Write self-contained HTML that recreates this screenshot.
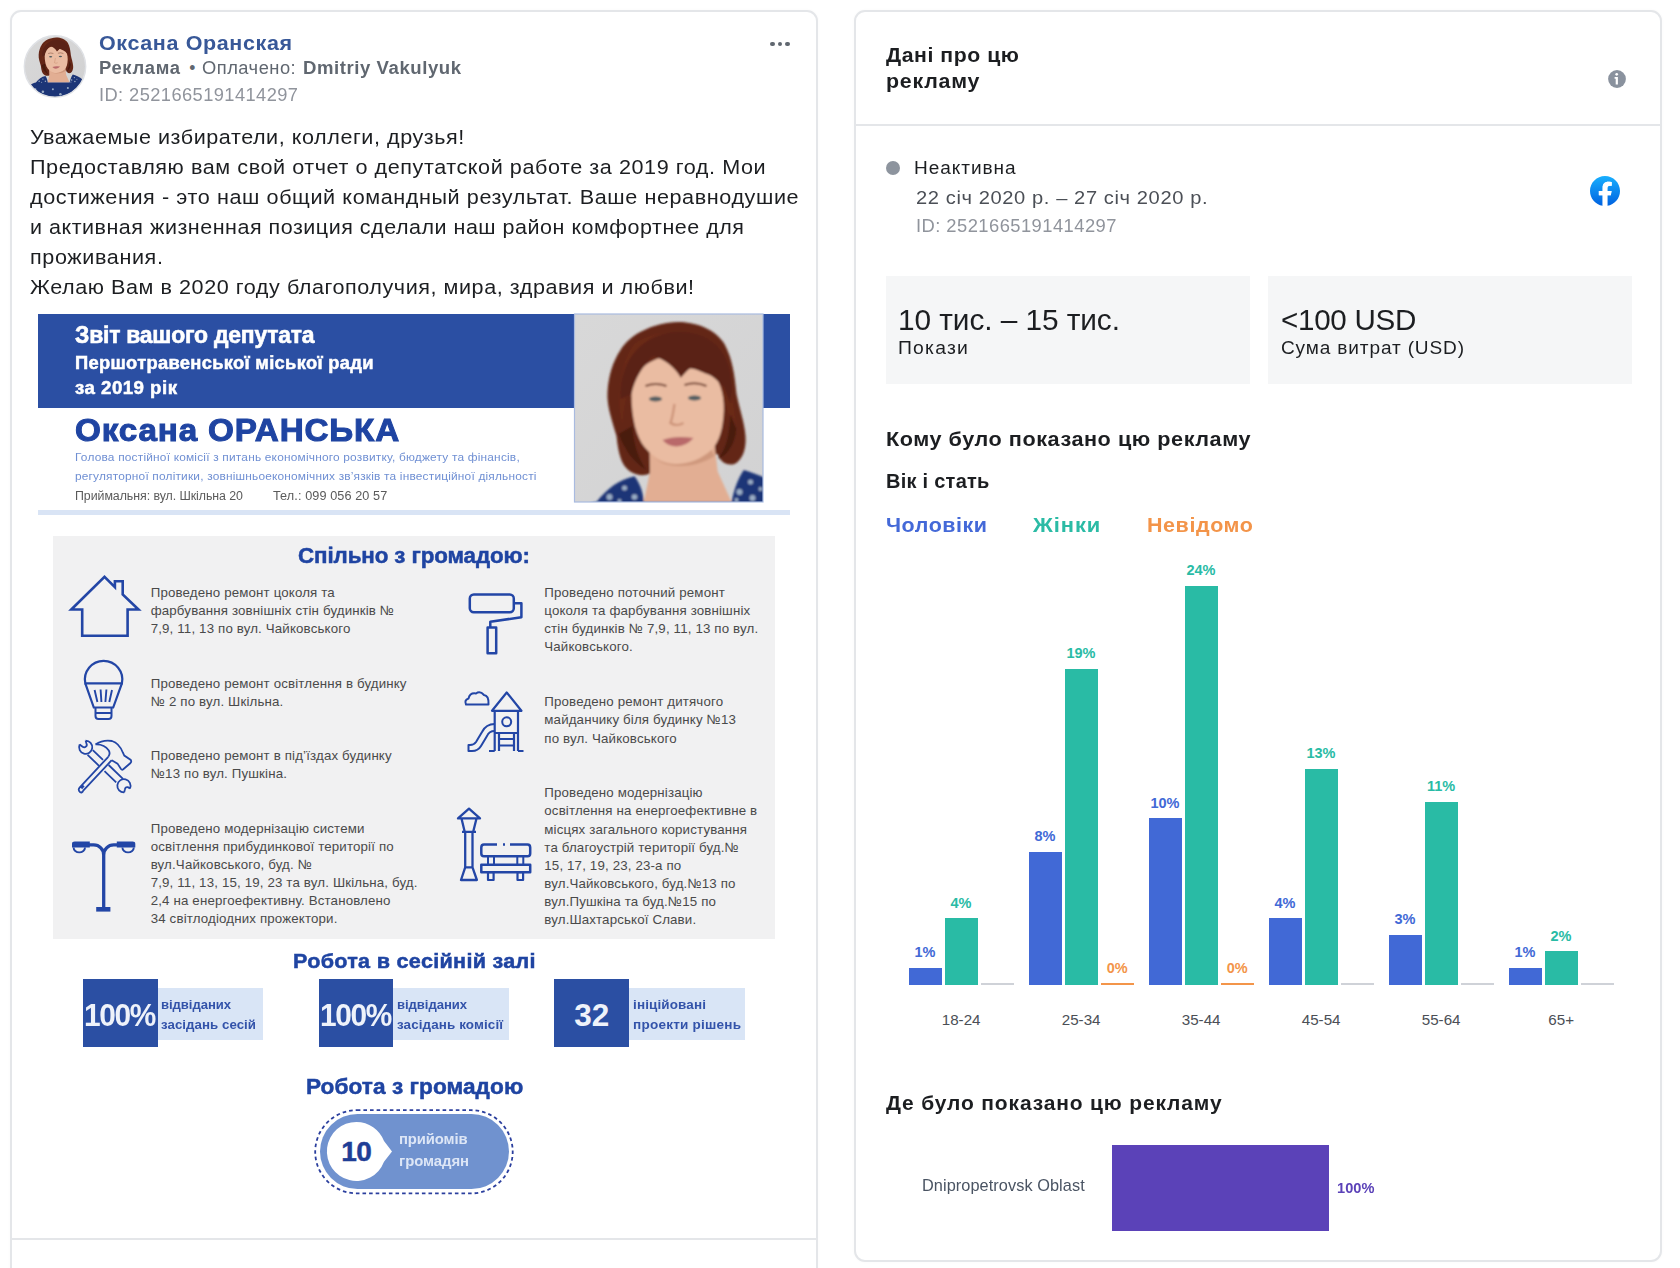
<!DOCTYPE html>
<html><head><meta charset="utf-8"><style>
html,body{margin:0;padding:0;background:#fff;width:1680px;height:1268px;overflow:hidden;}
body{position:relative;font-family:"Liberation Sans",sans-serif;}
.t{position:absolute;white-space:nowrap;line-height:0;}
.a{position:absolute;}
svg{position:absolute;overflow:visible;}
</style></head><body>
<div class="a" style="left:10px;top:10px;width:804px;height:1300px;border:2px solid #e4e6e9;border-radius:11px;box-shadow:0 0 3px rgba(0,0,0,0.03);background:#fff"></div>
<div class="a" style="left:12px;top:1238px;width:804px;height:2px;background:#e4e6e9"></div>
<div class="a" style="left:854px;top:10px;width:804px;height:1248px;border:2px solid #e4e6e9;border-radius:11px;box-shadow:0 0 3px rgba(0,0,0,0.03);background:#fff"></div>
<div class="a" style="left:856px;top:123.7px;width:804px;height:2px;background:#e4e6e9"></div>
<div class="a" style="left:770.3px;top:41.5px;width:4.4px;height:4.4px;border-radius:50%;background:#606770"></div>
<div class="a" style="left:777.8px;top:41.5px;width:4.4px;height:4.4px;border-radius:50%;background:#606770"></div>
<div class="a" style="left:785.3px;top:41.5px;width:4.4px;height:4.4px;border-radius:50%;background:#606770"></div>
<svg style="left:1608px;top:70px" width="18" height="18" viewBox="0 0 18 18"><circle cx="9" cy="9" r="8.9" fill="#8a929e"/><circle cx="8.7" cy="4.3" r="1.35" fill="#fff"/><path d="M6.6 7.1h3.3v7.3H7.7V8.7H6.6z" fill="#fff"/></svg>
<div class="a" style="left:885.8px;top:160.8px;width:14px;height:14px;border-radius:50%;background:#8d949e"></div>
<svg style="left:1590px;top:176px" width="30" height="30" viewBox="0 0 1024 1024"><defs><linearGradient id="fbg" x1="0" y1="0" x2="0" y2="1"><stop offset="0" stop-color="#19affe"/><stop offset="1" stop-color="#0062e0"/></linearGradient></defs><path d="M1024,512C1024,229.23,794.77,0,512,0S0,229.23,0,512c0,255.55,187.23,467.37,432,505.78V660H302V512H432V399.2C432,270.88,508.44,200,625.39,200c56,0,114.61,10,114.61,10V336H675.44c-63.6,0-83.44,39.47-83.44,80v96H734L711.3,660H592v357.78C836.77,979.37,1024,767.55,1024,512Z" fill="url(#fbg)"/><path d="M711.3,660,734,512H592V416c0-40.49,19.84-80,83.44-80H740V210s-57.59-10-114.61-10C508.44,200,432,270.88,432,399.2V512H302V660H432v357.78a517.58,517.58,0,0,0,160,0V660Z" fill="#fff"/></svg>
<div class="a" style="left:885.7px;top:275.8px;width:364.3px;height:107.8px;background:#f5f6f7"></div>
<div class="a" style="left:1267.8px;top:275.8px;width:364.2px;height:107.8px;background:#f5f6f7"></div>
<div class="a" style="left:908.50px;top:968.07px;width:33px;height:16.63px;background:#4169d6"></div>
<div class="a" style="left:944.50px;top:918.18px;width:33px;height:66.52px;background:#29bba5"></div>
<div class="a" style="left:980.50px;top:982.90px;width:33.5px;height:1.8px;background:#cfd2d8"></div>
<div class="a" style="left:1028.50px;top:851.66px;width:33px;height:133.04px;background:#4169d6"></div>
<div class="a" style="left:1064.50px;top:668.73px;width:33px;height:315.97px;background:#29bba5"></div>
<div class="a" style="left:1100.50px;top:982.70px;width:33.5px;height:2px;background:#f3954a"></div>
<div class="a" style="left:1148.50px;top:818.40px;width:33px;height:166.30px;background:#4169d6"></div>
<div class="a" style="left:1184.50px;top:585.58px;width:33px;height:399.12px;background:#29bba5"></div>
<div class="a" style="left:1220.50px;top:982.70px;width:33.5px;height:2px;background:#f3954a"></div>
<div class="a" style="left:1268.50px;top:918.18px;width:33px;height:66.52px;background:#4169d6"></div>
<div class="a" style="left:1304.50px;top:768.51px;width:33px;height:216.19px;background:#29bba5"></div>
<div class="a" style="left:1340.50px;top:982.90px;width:33.5px;height:1.8px;background:#cfd2d8"></div>
<div class="a" style="left:1388.50px;top:934.81px;width:33px;height:49.89px;background:#4169d6"></div>
<div class="a" style="left:1424.50px;top:801.77px;width:33px;height:182.93px;background:#29bba5"></div>
<div class="a" style="left:1460.50px;top:982.90px;width:33.5px;height:1.8px;background:#cfd2d8"></div>
<div class="a" style="left:1508.50px;top:968.07px;width:33px;height:16.63px;background:#4169d6"></div>
<div class="a" style="left:1544.50px;top:951.44px;width:33px;height:33.26px;background:#29bba5"></div>
<div class="a" style="left:1580.50px;top:982.90px;width:33.5px;height:1.8px;background:#cfd2d8"></div>
<div class="a" style="left:1111.5px;top:1145px;width:217.5px;height:86px;background:#5b42b8"></div>
<div class="a" style="left:38px;top:314px;width:752px;height:94px;background:#2b4fa3"></div>
<div class="a" style="left:38px;top:509.7px;width:752px;height:5.3px;background:#d9e4f5"></div>
<div class="a" style="left:53px;top:536px;width:722px;height:402.5px;background:#f1f1f2"></div>
<svg style="left:0;top:0" width="1" height="1"><g fill="none" stroke="#2346a6" stroke-width="2.6" stroke-linejoin="miter" stroke-linecap="butt">
<path d="M71.3 609.5 L104.5 576.9 L114.9 587.2 L114.9 581.2 L122.7 581.2 L122.7 594.5 L138.5 609.5 L127.6 609.5 L127.6 635.7 L82.2 635.7 L82.2 609.5 Z"/>
<path d="M85.3 683.4 A18.7 18.7 0 1 1 121.9 683.4 Z" stroke-width="2.2"/>
<path d="M85.3 683.4 L93.8 707.5 L113.2 707.5 L121.9 683.4" stroke-width="2.2"/>
<path d="M94.6 690 L97.4 702 M100.6 689.5 L101.4 702 M106.4 689.5 L105.4 702 M112 690 L109.3 702" stroke-width="1.9"/>
<path d="M95.5 708 L95.5 716 Q95.5 719 98.5 719 L108.5 719 Q111.5 719 111.5 716 L111.5 708 M95.5 713 L111.5 713" stroke-width="2"/>
<path d="M79.8 787.3 L108.3 756.8 M83.2 790.7 L111.7 760.2 M79.8 787.3 Q77.5 790 80 792 Q82 793.5 83.2 790.7 M80.8 786.5 L82.8 788.5 M82 785.2 L84 787.2" stroke-width="1.8"/>
<path d="M95.4 744.4 Q103 739.5 112 741 Q119 743 122.8 752.5 L124.3 755.6 L130.8 760 Q131.8 761.6 130.5 763 L123.3 769.3 Q122 770.2 121 769 L117.5 763.6 L111.7 760.2 M95.4 744.4 Q104.5 744 108.8 750.5 Q110.6 753.8 108.3 756.8" stroke-width="1.8"/>
<path d="M87.6 754.8 L99 765.8 M104.5 771.2 L116.2 782.4 M92.8 750.1 L103 759.8 M108.6 765 L123 778.8" stroke-width="1.8"/>
<path d="M79.6 744.6 A6.6 6.6 0 1 0 85.6 740.6 M79.6 744.6 L82.6 746.8 A2.6 2.6 0 0 0 86.4 743.4 L85.6 740.6" stroke-width="1.8"/>
<path d="M124.2 792.4 A6.6 6.6 0 1 1 130 788.4 M124.2 792.4 L124.9 789.4 A2.6 2.6 0 0 1 127.8 787.2 L130 788.4" stroke-width="1.8"/>
</g>
<g fill="#2346a6">
<path d="M72 847.6 L72 843.8 Q72 841.4 74.8 841.4 L89.8 841.4 L89.8 847.6 Z M116.8 841.4 L132.6 841.4 Q135.3 841.4 135.3 843.8 L135.3 847.6 L116.8 847.6 Z"/>
<path d="M73.6 847.4 A5.7 5 0 0 0 85 847.4 M122.4 847.4 A5.7 5 0 0 0 133.8 847.4" fill="none" stroke="#2346a6" stroke-width="1.9"/>
<path d="M88.5 844.9 L93.7 844.9 A10 10 0 0 1 103.7 854.9 L103.7 908 M118.9 844.9 L113.7 844.9 A10 10 0 0 0 103.7 854.9" fill="none" stroke="#2346a6" stroke-width="3.3"/>
<rect x="96.2" y="907" width="14.2" height="4.6"/>
</g>
<g fill="none" stroke="#2346a6" stroke-width="2.5" stroke-linejoin="round">
<rect x="469.8" y="594.4" width="44" height="17.8" rx="4"/>
<path d="M513.8 603.2 L521.4 603.2 L521.4 617.2 L490.3 621.8 L490.3 627"/>
<rect x="487.6" y="627.4" width="8.6" height="25.8"/>
<path d="M466 704.5 Q464 700 468.5 698.5 Q470 692.5 476 693.5 Q480 690.5 484 695 Q489 695.5 488.5 704.5 Z" stroke-width="2"/>
<path d="M492 710.8 L506.7 692.5 L521.4 710.8 Z M494.7 710.8 L494.7 751 M518 710.8 L518 751 M494.7 733 L518 733 M499 739 L514 739 M499 745.5 L514 745.5 M499 733 L499 751 M514 733 L514 751" stroke-width="2.2"/>
<circle cx="506.7" cy="721.8" r="4.5" stroke-width="2"/>
<path d="M494.7 724 Q486 724 482 732 L476 742 Q474 745 470 745 L468.5 745 L468.5 751 L472 751 Q478 751 481 746 L487 736 Q489 731 494.7 731" stroke-width="2"/>
<path d="M489 751 L494.7 751 M518 751 L523.5 751" stroke-width="2"/>
<path d="M469 808.6 L458 818.4 L480 818.4 Z M461.5 818.4 L464.7 831.8 L473.2 831.8 L476.5 818.4 M465.2 831.8 L465.2 867.3 M472.5 831.8 L472.5 867.3 M462 831.8 L476 831.8 M465.2 867.3 L461 880 L476.9 880 L472.5 867.3 Z" stroke-width="2.3"/>
<path d="M497 844.5 L484 844.5 Q481.3 844.5 481.3 847.5 L481.3 853.5 Q481.3 856.3 484 856.3 L527.5 856.3 Q530.2 856.3 530.2 853.5 L530.2 847.5 Q530.2 844.5 527.5 844.5 L510 844.5 M503 844.5 L505 844.5" stroke-width="2.5"/>
<rect x="481.3" y="864.8" width="48.9" height="7.4" stroke-width="2.5"/>
<path d="M488 856.3 L488 864.8 M494 856.3 L494 864.8 M517.3 856.3 L517.3 864.8 M523.3 856.3 L523.3 864.8" stroke-width="2"/>
<rect x="488" y="872.2" width="5.6" height="7.8" stroke-width="2.2"/>
<rect x="517.5" y="872.2" width="5.6" height="7.8" stroke-width="2.2"/>
</g></svg>
<div class="a" style="left:157.6px;top:987.6px;width:105.2px;height:52px;background:#d9e5f6"></div>
<div class="a" style="left:82.9px;top:979.1px;width:74.7px;height:68.3px;background:#2b4fa3"></div>
<div class="a" style="left:393.2px;top:987.6px;width:116.0px;height:52px;background:#d9e5f6"></div>
<div class="a" style="left:318.5px;top:979.1px;width:74.7px;height:68.3px;background:#2b4fa3"></div>
<div class="a" style="left:629.1px;top:987.6px;width:116.3px;height:52px;background:#d9e5f6"></div>
<div class="a" style="left:554.4px;top:979.1px;width:74.7px;height:68.3px;background:#2b4fa3"></div>
<svg style="left:0;top:0" width="1" height="1"><rect x="315.2" y="1110.2" width="197.5" height="83.2" rx="41.6" fill="none" stroke="#2b3f9e" stroke-width="1.8" stroke-dasharray="3.6 3"/></svg>
<div class="a" style="left:320px;top:1113.6px;width:188.6px;height:75.7px;border-radius:38px;background:#7092cf"></div>
<svg style="left:0;top:0" width="1" height="1"><path d="M356.4 1121.9 A29.5 29.5 0 0 1 384 1141 L392 1151.4 L384 1161.8 A29.5 29.5 0 1 1 356.4 1121.9 Z" fill="#fff"/></svg>
<svg style="left:0;top:0" width="1" height="1"><defs>
<linearGradient id="pbg" x1="0" y1="0" x2="1" y2="1"><stop offset="0" stop-color="#dadada"/><stop offset="1" stop-color="#d0d0d1"/></linearGradient>
<filter id="pblur" x="-20%" y="-20%" width="140%" height="140%"><feGaussianBlur stdDeviation="1.3"/></filter>
<clipPath id="photoclip"><rect x="0" y="0" width="188.5" height="188"/></clipPath>
<clipPath id="avclip"><circle cx="55" cy="66.5" r="30.5"/></clipPath>
</defs>
<g transform="translate(574.5 314)"><g clip-path="url(#photoclip)">
<rect x="-60" y="-60" width="310" height="320" fill="url(#pbg)"/>
<g filter="url(#pblur)">
<path d="M103.5 8 C120 8 140 14 150 30 C158 45 160 60 162 80 C165 95 170 108 171 122 C172 135 168 146 160 150 C152 152 146 148 143 140 L75 160 C66 163 56 160 50 152 C45 145 43 132 42 122 C38 108 32 92 33 78 C34 62 38 48 46 36 C56 20 78 9 103.5 8 Z" fill="#632616"/>
<path d="M60 30 C80 14 125 14 145 40 C155 60 160 90 162 120 C150 95 148 70 135 52 C120 38 90 36 70 50 C58 60 50 80 48 110 C42 90 44 50 60 30 Z" fill="#84371f" opacity="0.25"/>
<path d="M75 135 L140 130 L143.2 157.5 L157 188 L69.3 188 L75.5 157.5 Z" fill="#e2ae93"/>
<path d="M57 80 C57 58 75 42 100 42 C130 42 150 62 149.3 96 C148.5 115 145 127 137 136 C127 145 114 150 103 150 C90 150 78 143 70 133 C62 123 57 105 57 80 Z" fill="#eabca2"/>
<path d="M137 136 C127 145 114 150 103 150 C92 150 86 148 80 144 C90 154 118 156 140 142 Z" fill="#cf987d"/>
<path d="M46 85 C44 45 70 18 105 18 C140 18 162 42 156 90 L149.3 73 C142 66 138 62 134 60.6 C125 57 119 54 115.5 54.5 C112 57 109 61 106.3 63.7 C100 53 90 45 78.6 42.2 C68 52 60 65 57 80 Z" fill="#5a2214"/>
<path d="M44 120 C50 135 58 148 72 156 C64 145 59 130 58 112 Z M156 100 C155 120 152 135 143 145 C152 142 160 132 162 115 Z" fill="#4a1a10"/>
<ellipse cx="81" cy="85" rx="6.5" ry="2.6" fill="#4f5d62"/>
<ellipse cx="120" cy="84" rx="6.5" ry="2.6" fill="#4f5d62"/>
<path d="M71 72 Q81 68 92 72 M110 71 Q121 67 132 72" stroke="#7a4a38" stroke-width="2" fill="none"/>
<path d="M100 90 Q98 104 96 109 Q102 113 109 109" stroke="#cc9378" stroke-width="2.2" fill="none"/>
<path d="M88 126 Q101 121 119 124 Q112 132 102 132.5 Q93 132 88 126 Z" fill="#b9696b"/>
<path d="M-40 290 L-30 230 C-10 200 10 190 22 188 C32 175 45 165 60.1 162.2 C66 170 69 180 69.3 188 L157 188 C160 175 163 165 169.3 156 C176 158 182 160 188.5 163 C215 175 235 200 240 290 Z" fill="#1f3577"/>
<g fill="#c4d6df" opacity="0.75"><circle cx="35" cy="183" r="3"/><circle cx="50" cy="174" r="2.5"/><circle cx="60" cy="183" r="2.8"/><circle cx="45" cy="187" r="2"/><circle cx="165" cy="178" r="3"/><circle cx="176" cy="168" r="2.5"/><circle cx="178" cy="184" r="3"/><circle cx="186" cy="175" r="2"/><circle cx="162" cy="186" r="2"/><circle cx="20" cy="215" r="4"/><circle cx="50" cy="225" r="5"/><circle cx="90" cy="215" r="4"/><circle cx="120" cy="235" r="5"/><circle cx="150" cy="210" r="4"/><circle cx="180" cy="225" r="5"/><circle cx="70" cy="250" r="4"/><circle cx="140" cy="255" r="4"/><circle cx="30" cy="255" r="4"/><circle cx="200" cy="250" r="4"/></g>
</g></g>
<rect x="0" y="0" width="188.5" height="188" fill="none" stroke="#a9bbe0" stroke-width="1.2"/></g>
<g clip-path="url(#avclip)"><g transform="translate(30.4 35.5) scale(0.25)">
<rect x="-60" y="-60" width="310" height="320" fill="url(#pbg)"/>
<g filter="url(#pblur)">
<path d="M103.5 8 C120 8 140 14 150 30 C158 45 160 60 162 80 C165 95 170 108 171 122 C172 135 168 146 160 150 C152 152 146 148 143 140 L75 160 C66 163 56 160 50 152 C45 145 43 132 42 122 C38 108 32 92 33 78 C34 62 38 48 46 36 C56 20 78 9 103.5 8 Z" fill="#632616"/>
<path d="M60 30 C80 14 125 14 145 40 C155 60 160 90 162 120 C150 95 148 70 135 52 C120 38 90 36 70 50 C58 60 50 80 48 110 C42 90 44 50 60 30 Z" fill="#84371f" opacity="0.25"/>
<path d="M75 135 L140 130 L143.2 157.5 L157 188 L69.3 188 L75.5 157.5 Z" fill="#e2ae93"/>
<path d="M57 80 C57 58 75 42 100 42 C130 42 150 62 149.3 96 C148.5 115 145 127 137 136 C127 145 114 150 103 150 C90 150 78 143 70 133 C62 123 57 105 57 80 Z" fill="#eabca2"/>
<path d="M137 136 C127 145 114 150 103 150 C92 150 86 148 80 144 C90 154 118 156 140 142 Z" fill="#cf987d"/>
<path d="M46 85 C44 45 70 18 105 18 C140 18 162 42 156 90 L149.3 73 C142 66 138 62 134 60.6 C125 57 119 54 115.5 54.5 C112 57 109 61 106.3 63.7 C100 53 90 45 78.6 42.2 C68 52 60 65 57 80 Z" fill="#5a2214"/>
<path d="M44 120 C50 135 58 148 72 156 C64 145 59 130 58 112 Z M156 100 C155 120 152 135 143 145 C152 142 160 132 162 115 Z" fill="#4a1a10"/>
<ellipse cx="81" cy="85" rx="6.5" ry="2.6" fill="#4f5d62"/>
<ellipse cx="120" cy="84" rx="6.5" ry="2.6" fill="#4f5d62"/>
<path d="M71 72 Q81 68 92 72 M110 71 Q121 67 132 72" stroke="#7a4a38" stroke-width="2" fill="none"/>
<path d="M100 90 Q98 104 96 109 Q102 113 109 109" stroke="#cc9378" stroke-width="2.2" fill="none"/>
<path d="M88 126 Q101 121 119 124 Q112 132 102 132.5 Q93 132 88 126 Z" fill="#b9696b"/>
<path d="M-40 290 L-30 230 C-10 200 10 190 22 188 C32 175 45 165 60.1 162.2 C66 170 69 180 69.3 188 L157 188 C160 175 163 165 169.3 156 C176 158 182 160 188.5 163 C215 175 235 200 240 290 Z" fill="#1f3577"/>
<g fill="#c4d6df" opacity="0.75"><circle cx="35" cy="183" r="3"/><circle cx="50" cy="174" r="2.5"/><circle cx="60" cy="183" r="2.8"/><circle cx="45" cy="187" r="2"/><circle cx="165" cy="178" r="3"/><circle cx="176" cy="168" r="2.5"/><circle cx="178" cy="184" r="3"/><circle cx="186" cy="175" r="2"/><circle cx="162" cy="186" r="2"/><circle cx="20" cy="215" r="4"/><circle cx="50" cy="225" r="5"/><circle cx="90" cy="215" r="4"/><circle cx="120" cy="235" r="5"/><circle cx="150" cy="210" r="4"/><circle cx="180" cy="225" r="5"/><circle cx="70" cy="250" r="4"/><circle cx="140" cy="255" r="4"/><circle cx="30" cy="255" r="4"/><circle cx="200" cy="250" r="4"/></g>
</g></g></g>
<circle cx="55" cy="66.5" r="30.7" fill="none" stroke="#dfe1e5" stroke-width="1.4"/>
</svg>
<div class="t" style="left:98.75px;top:42.90px;font-size:20.5px;color:#385898;font-weight:bold;letter-spacing:0.588px;transform:scaleX(1.0491);transform-origin:0 0;">Оксана Оранская</div>
<div class="t" style="left:98.75px;top:67.69px;font-size:17.5px;color:#606770;font-weight:bold;letter-spacing:0.614px;transform:scaleX(1.0530);transform-origin:0 0;">Реклама</div>
<div class="t" style="left:189.30px;top:67.69px;font-size:17.5px;color:#606770;">•</div>
<div class="t" style="left:201.90px;top:67.69px;font-size:17.5px;color:#606770;letter-spacing:0.474px;transform:scaleX(1.0463);transform-origin:0 0;">Оплачено:</div>
<div class="t" style="left:302.90px;top:67.69px;font-size:17.5px;color:#606770;font-weight:bold;letter-spacing:0.533px;transform:scaleX(1.0601);transform-origin:0 0;">Dmitriy Vakulyuk</div>
<div class="t" style="left:98.75px;top:95.44px;font-size:17.5px;color:#90949c;letter-spacing:0.405px;transform:scaleX(1.0439);transform-origin:0 0;">ID: 2521665191414297</div>
<div class="t" style="left:29.90px;top:136.90px;font-size:20.5px;color:#1c1e21;letter-spacing:0.527px;transform:scaleX(1.0522);transform-origin:0 0;">Уважаемые избиратели, коллеги, друзья!</div>
<div class="t" style="left:29.90px;top:166.90px;font-size:20.5px;color:#1c1e21;letter-spacing:0.530px;transform:scaleX(1.0539);transform-origin:0 0;">Предоставляю вам свой отчет о депутатской работе за 2019 год. Мои</div>
<div class="t" style="left:29.90px;top:196.90px;font-size:20.5px;color:#1c1e21;letter-spacing:0.555px;transform:scaleX(1.0539);transform-origin:0 0;">достижения - это наш общий командный результат. Ваше неравнодушие</div>
<div class="t" style="left:29.90px;top:226.90px;font-size:20.5px;color:#1c1e21;letter-spacing:0.498px;transform:scaleX(1.0481);transform-origin:0 0;">и активная жизненная позиция сделали наш район комфортнее для</div>
<div class="t" style="left:29.90px;top:256.90px;font-size:20.5px;color:#1c1e21;letter-spacing:0.591px;transform:scaleX(1.0516);transform-origin:0 0;">проживания.</div>
<div class="t" style="left:29.90px;top:286.90px;font-size:20.5px;color:#1c1e21;letter-spacing:0.527px;transform:scaleX(1.0526);transform-origin:0 0;">Желаю Вам в 2020 году благополучия, мира, здравия и любви!</div>
<div class="t" style="left:886.00px;top:54.87px;font-size:20.3px;color:#1c1e21;font-weight:bold;letter-spacing:0.540px;transform:scaleX(1.0464);transform-origin:0 0;">Дані про цю</div>
<div class="t" style="left:886.00px;top:80.57px;font-size:20.3px;color:#1c1e21;font-weight:bold;letter-spacing:0.731px;transform:scaleX(1.0549);transform-origin:0 0;">рекламу</div>
<div class="t" style="left:914.00px;top:167.84px;font-size:17.5px;color:#1c1e21;letter-spacing:0.871px;transform:scaleX(1.0877);transform-origin:0 0;">Неактивна</div>
<div class="t" style="left:916.40px;top:197.69px;font-size:18.8px;color:#4b4f56;letter-spacing:0.560px;transform:scaleX(1.0703);transform-origin:0 0;">22 січ 2020 р. – 27 січ 2020 р.</div>
<div class="t" style="left:916.40px;top:225.94px;font-size:17.5px;color:#90949c;letter-spacing:0.438px;transform:scaleX(1.0477);transform-origin:0 0;">ID: 2521665191414297</div>
<div class="t" style="left:898.20px;top:319.61px;font-size:30px;color:#1c1e21;letter-spacing:-0.076px;transform:scaleX(0.9946);transform-origin:0 0;">10 тис. – 15 тис.</div>
<div class="t" style="left:898.20px;top:347.74px;font-size:17.5px;color:#1c1e21;letter-spacing:1.096px;transform:scaleX(1.1050);transform-origin:0 0;">Покази</div>
<div class="t" style="left:1281.30px;top:319.61px;font-size:30px;color:#1c1e21;letter-spacing:-0.279px;transform:scaleX(0.9862);transform-origin:0 0;">&lt;100 USD</div>
<div class="t" style="left:1281.30px;top:347.74px;font-size:17.5px;color:#1c1e21;letter-spacing:0.790px;transform:scaleX(1.0886);transform-origin:0 0;">Сума витрат (USD)</div>
<div class="t" style="left:886.00px;top:439.03px;font-size:20.7px;color:#1c1e21;font-weight:bold;letter-spacing:0.520px;transform:scaleX(1.0456);transform-origin:0 0;">Кому було показано цю рекламу</div>
<div class="t" style="left:886.00px;top:481.04px;font-size:19.5px;color:#1c1e21;font-weight:bold;letter-spacing:0.249px;transform:scaleX(1.0260);transform-origin:0 0;">Вік і стать</div>
<div class="t" style="left:885.90px;top:524.86px;font-size:20.6px;color:#4469d8;font-weight:bold;letter-spacing:0.530px;transform:scaleX(1.0414);transform-origin:0 0;">Чоловіки</div>
<div class="t" style="left:1033.30px;top:524.86px;font-size:20.6px;color:#2bbba5;font-weight:bold;letter-spacing:0.889px;transform:scaleX(1.0633);transform-origin:0 0;">Жінки</div>
<div class="t" style="left:1147.00px;top:524.86px;font-size:20.6px;color:#f39449;font-weight:bold;letter-spacing:0.567px;transform:scaleX(1.0424);transform-origin:0 0;">Невідомо</div>
<div class="t" style="left:914.52px;top:952.45px;font-size:14.5px;color:#4169d6;font-weight:bold;">1%</div>
<div class="t" style="left:950.52px;top:902.56px;font-size:14.5px;color:#29bba5;font-weight:bold;">4%</div>
<div class="t" style="left:941.73px;top:1019.63px;font-size:15.2px;color:#4b4f56;">18-24</div>
<div class="t" style="left:1034.52px;top:836.04px;font-size:14.5px;color:#4169d6;font-weight:bold;">8%</div>
<div class="t" style="left:1066.49px;top:653.11px;font-size:14.5px;color:#29bba5;font-weight:bold;">19%</div>
<div class="t" style="left:1106.72px;top:967.68px;font-size:14.5px;color:#f3954a;font-weight:bold;">0%</div>
<div class="t" style="left:1061.73px;top:1019.63px;font-size:15.2px;color:#4b4f56;">25-34</div>
<div class="t" style="left:1150.49px;top:802.78px;font-size:14.5px;color:#4169d6;font-weight:bold;">10%</div>
<div class="t" style="left:1186.49px;top:569.96px;font-size:14.5px;color:#29bba5;font-weight:bold;">24%</div>
<div class="t" style="left:1226.72px;top:967.68px;font-size:14.5px;color:#f3954a;font-weight:bold;">0%</div>
<div class="t" style="left:1181.73px;top:1019.63px;font-size:15.2px;color:#4b4f56;">35-44</div>
<div class="t" style="left:1274.52px;top:902.56px;font-size:14.5px;color:#4169d6;font-weight:bold;">4%</div>
<div class="t" style="left:1306.49px;top:752.89px;font-size:14.5px;color:#29bba5;font-weight:bold;">13%</div>
<div class="t" style="left:1301.73px;top:1019.63px;font-size:15.2px;color:#4b4f56;">45-54</div>
<div class="t" style="left:1394.52px;top:919.19px;font-size:14.5px;color:#4169d6;font-weight:bold;">3%</div>
<div class="t" style="left:1426.89px;top:786.15px;font-size:14.5px;color:#29bba5;font-weight:bold;">11%</div>
<div class="t" style="left:1421.73px;top:1019.63px;font-size:15.2px;color:#4b4f56;">55-64</div>
<div class="t" style="left:1514.52px;top:952.45px;font-size:14.5px;color:#4169d6;font-weight:bold;">1%</div>
<div class="t" style="left:1550.52px;top:935.82px;font-size:14.5px;color:#29bba5;font-weight:bold;">2%</div>
<div class="t" style="left:1548.27px;top:1019.63px;font-size:15.2px;color:#4b4f56;">65+</div>
<div class="t" style="left:885.90px;top:1102.84px;font-size:19.5px;color:#1c1e21;font-weight:bold;letter-spacing:0.793px;transform:scaleX(1.0762);transform-origin:0 0;">Де було показано цю рекламу</div>
<div class="t" style="left:921.60px;top:1185.19px;font-size:16.2px;color:#4a5463;letter-spacing:0.063px;transform:scaleX(1.0080);transform-origin:0 0;">Dnipropetrovsk Oblast</div>
<div class="t" style="left:1336.50px;top:1187.98px;font-size:14.5px;color:#5b42b8;font-weight:bold;letter-spacing:0.069px;transform:scaleX(1.0056);transform-origin:0 0;">100%</div>
<div class="t" style="left:74.80px;top:334.53px;font-size:23.3px;color:#ffffff;font-weight:bold;letter-spacing:-0.222px;transform:scaleX(0.9833);transform-origin:0 0;-webkit-text-stroke:0.6px #fff;">Звіт вашого депутата</div>
<div class="t" style="left:74.80px;top:362.63px;font-size:17.8px;color:#ffffff;font-weight:bold;letter-spacing:0.300px;transform:scaleX(1.0308);transform-origin:0 0;-webkit-text-stroke:0.5px #fff;">Першотравенської міської ради</div>
<div class="t" style="left:74.80px;top:388.33px;font-size:17.8px;color:#ffffff;font-weight:bold;letter-spacing:0.446px;transform:scaleX(1.0506);transform-origin:0 0;-webkit-text-stroke:0.5px #fff;">за 2019 рік</div>
<div class="t" style="left:75.30px;top:430.21px;font-size:32px;color:#1f44a2;font-weight:bold;letter-spacing:0.802px;transform:scaleX(1.0388);transform-origin:0 0;-webkit-text-stroke:1px #1f44a2;">Оксана ОРАНСЬКА</div>
<div class="t" style="left:75.30px;top:456.82px;font-size:11.5px;color:#6f8fd3;letter-spacing:0.185px;transform:scaleX(1.0351);transform-origin:0 0;">Голова постійної комісії з питань економічного розвитку, бюджету та фінансів,</div>
<div class="t" style="left:75.30px;top:476.02px;font-size:11.5px;color:#6f8fd3;letter-spacing:0.180px;transform:scaleX(1.0340);transform-origin:0 0;">регуляторної політики, зовнішньоекономічних зв’язків та інвестиційної діяльності</div>
<div class="t" style="left:75.30px;top:495.67px;font-size:12.5px;color:#5a5a5a;letter-spacing:-0.062px;transform:scaleX(0.9907);transform-origin:0 0;">Приймальня: вул. Шкільна 20</div>
<div class="t" style="left:272.50px;top:495.67px;font-size:12.5px;color:#5a5a5a;letter-spacing:0.084px;transform:scaleX(1.0139);transform-origin:0 0;">Тел.: 099 056 20 57</div>
<div class="t" style="left:298.00px;top:556.20px;font-size:22.5px;color:#1f44a2;font-weight:bold;letter-spacing:-0.095px;transform:scaleX(0.9928);transform-origin:0 0;-webkit-text-stroke:0.5px #1f44a2;">Спільно з громадою:</div>
<div class="t" style="left:150.70px;top:592.79px;font-size:13.3px;color:#4a4a4a;letter-spacing:0.150px;">Проведено ремонт цоколя та</div>
<div class="t" style="left:150.70px;top:610.87px;font-size:13.3px;color:#4a4a4a;letter-spacing:0.150px;">фарбування зовнішніх стін будинків №</div>
<div class="t" style="left:150.70px;top:628.95px;font-size:13.3px;color:#4a4a4a;letter-spacing:0.150px;">7,9, 11, 13 по вул. Чайковського</div>
<div class="t" style="left:150.70px;top:684.39px;font-size:13.3px;color:#4a4a4a;letter-spacing:0.150px;">Проведено ремонт освітлення в будинку</div>
<div class="t" style="left:150.70px;top:702.47px;font-size:13.3px;color:#4a4a4a;letter-spacing:0.150px;">№ 2 по вул. Шкільна.</div>
<div class="t" style="left:150.70px;top:756.39px;font-size:13.3px;color:#4a4a4a;letter-spacing:0.150px;">Проведено ремонт в під’їздах будинку</div>
<div class="t" style="left:150.70px;top:774.47px;font-size:13.3px;color:#4a4a4a;letter-spacing:0.150px;">№13 по вул. Пушкіна.</div>
<div class="t" style="left:150.70px;top:828.99px;font-size:13.3px;color:#4a4a4a;letter-spacing:0.150px;">Проведено модернізацію системи</div>
<div class="t" style="left:150.70px;top:847.07px;font-size:13.3px;color:#4a4a4a;letter-spacing:0.150px;">освітлення прибудинкової території по</div>
<div class="t" style="left:150.70px;top:865.15px;font-size:13.3px;color:#4a4a4a;letter-spacing:0.150px;">вул.Чайковського, буд. №</div>
<div class="t" style="left:150.70px;top:883.23px;font-size:13.3px;color:#4a4a4a;letter-spacing:0.150px;">7,9, 11, 13, 15, 19, 23 та вул. Шкільна, буд.</div>
<div class="t" style="left:150.70px;top:901.31px;font-size:13.3px;color:#4a4a4a;letter-spacing:0.150px;">2,4 на енергоефективну. Встановлено</div>
<div class="t" style="left:150.70px;top:919.39px;font-size:13.3px;color:#4a4a4a;letter-spacing:0.150px;">34 світлодіодних прожектори.</div>
<div class="t" style="left:544.30px;top:592.79px;font-size:13.3px;color:#4a4a4a;letter-spacing:0.150px;">Проведено поточний ремонт</div>
<div class="t" style="left:544.30px;top:610.87px;font-size:13.3px;color:#4a4a4a;letter-spacing:0.150px;">цоколя та фарбування зовнішніх</div>
<div class="t" style="left:544.30px;top:628.95px;font-size:13.3px;color:#4a4a4a;letter-spacing:0.150px;">стін будинків № 7,9, 11, 13 по вул.</div>
<div class="t" style="left:544.30px;top:647.03px;font-size:13.3px;color:#4a4a4a;letter-spacing:0.150px;">Чайковського.</div>
<div class="t" style="left:544.30px;top:702.39px;font-size:13.3px;color:#4a4a4a;letter-spacing:0.150px;">Проведено ремонт дитячого</div>
<div class="t" style="left:544.30px;top:720.47px;font-size:13.3px;color:#4a4a4a;letter-spacing:0.150px;">майданчику біля будинку №13</div>
<div class="t" style="left:544.30px;top:738.55px;font-size:13.3px;color:#4a4a4a;letter-spacing:0.150px;">по вул. Чайковського</div>
<div class="t" style="left:544.30px;top:793.39px;font-size:13.3px;color:#4a4a4a;letter-spacing:0.150px;">Проведено модернізацію</div>
<div class="t" style="left:544.30px;top:811.47px;font-size:13.3px;color:#4a4a4a;letter-spacing:0.150px;">освітлення на енергоефективне в</div>
<div class="t" style="left:544.30px;top:829.55px;font-size:13.3px;color:#4a4a4a;letter-spacing:0.150px;">місцях загального користування</div>
<div class="t" style="left:544.30px;top:847.63px;font-size:13.3px;color:#4a4a4a;letter-spacing:0.150px;">та благоустрій території буд.№</div>
<div class="t" style="left:544.30px;top:865.71px;font-size:13.3px;color:#4a4a4a;letter-spacing:0.150px;">15, 17, 19, 23, 23-а по</div>
<div class="t" style="left:544.30px;top:883.79px;font-size:13.3px;color:#4a4a4a;letter-spacing:0.150px;">вул.Чайковського, буд.№13 по</div>
<div class="t" style="left:544.30px;top:901.87px;font-size:13.3px;color:#4a4a4a;letter-spacing:0.150px;">вул.Пушкіна та буд.№15 по</div>
<div class="t" style="left:544.30px;top:919.95px;font-size:13.3px;color:#4a4a4a;letter-spacing:0.150px;">вул.Шахтарської Слави.</div>
<div class="t" style="left:293.20px;top:960.72px;font-size:21px;color:#1f44a2;font-weight:bold;letter-spacing:0.294px;transform:scaleX(1.0276);transform-origin:0 0;-webkit-text-stroke:0.5px #1f44a2;">Робота в сесійній залі</div>
<div class="t" style="left:84.40px;top:1014.89px;font-size:31.5px;color:#eef2fa;font-weight:bold;letter-spacing:-1.452px;transform:scaleX(0.9487);transform-origin:0 0;">100%</div>
<div class="t" style="left:161.30px;top:1005.13px;font-size:13.2px;color:#3353aa;font-weight:bold;letter-spacing:-0.057px;transform:scaleX(0.9928);transform-origin:0 0;">відвіданих</div>
<div class="t" style="left:161.30px;top:1024.93px;font-size:13.2px;color:#3353aa;font-weight:bold;letter-spacing:0.048px;transform:scaleX(1.0066);transform-origin:0 0;">засідань сесій</div>
<div class="t" style="left:320.00px;top:1014.89px;font-size:31.5px;color:#eef2fa;font-weight:bold;letter-spacing:-1.452px;transform:scaleX(0.9487);transform-origin:0 0;">100%</div>
<div class="t" style="left:396.90px;top:1005.13px;font-size:13.2px;color:#3353aa;font-weight:bold;letter-spacing:-0.057px;transform:scaleX(0.9928);transform-origin:0 0;">відвіданих</div>
<div class="t" style="left:396.90px;top:1024.93px;font-size:13.2px;color:#3353aa;font-weight:bold;letter-spacing:0.112px;transform:scaleX(1.0166);transform-origin:0 0;">засідань комісії</div>
<div class="t" style="left:574.28px;top:1014.89px;font-size:31.5px;color:#eef2fa;font-weight:bold;">32</div>
<div class="t" style="left:632.80px;top:1005.13px;font-size:13.2px;color:#3353aa;font-weight:bold;letter-spacing:0.141px;transform:scaleX(1.0205);transform-origin:0 0;">ініційовані</div>
<div class="t" style="left:632.80px;top:1024.93px;font-size:13.2px;color:#3353aa;font-weight:bold;letter-spacing:0.211px;transform:scaleX(1.0276);transform-origin:0 0;">проекти рішень</div>
<div class="t" style="left:305.70px;top:1086.50px;font-size:22.5px;color:#1f44a2;font-weight:bold;letter-spacing:0.064px;transform:scaleX(1.0047);transform-origin:0 0;-webkit-text-stroke:0.5px #1f44a2;">Робота з громадою</div>
<div class="t" style="left:341.28px;top:1151.70px;font-size:28px;color:#1f3e96;font-weight:bold;letter-spacing:-0.500px;-webkit-text-stroke:0.5px #1f3e96;">10</div>
<div class="t" style="left:399.30px;top:1139.10px;font-size:15px;color:#dde6f6;font-weight:bold;letter-spacing:-0.109px;transform:scaleX(0.9892);transform-origin:0 0;">прийомів</div>
<div class="t" style="left:399.30px;top:1160.50px;font-size:15px;color:#dde6f6;font-weight:bold;letter-spacing:-0.068px;transform:scaleX(0.9933);transform-origin:0 0;">громадян</div>

</body></html>
